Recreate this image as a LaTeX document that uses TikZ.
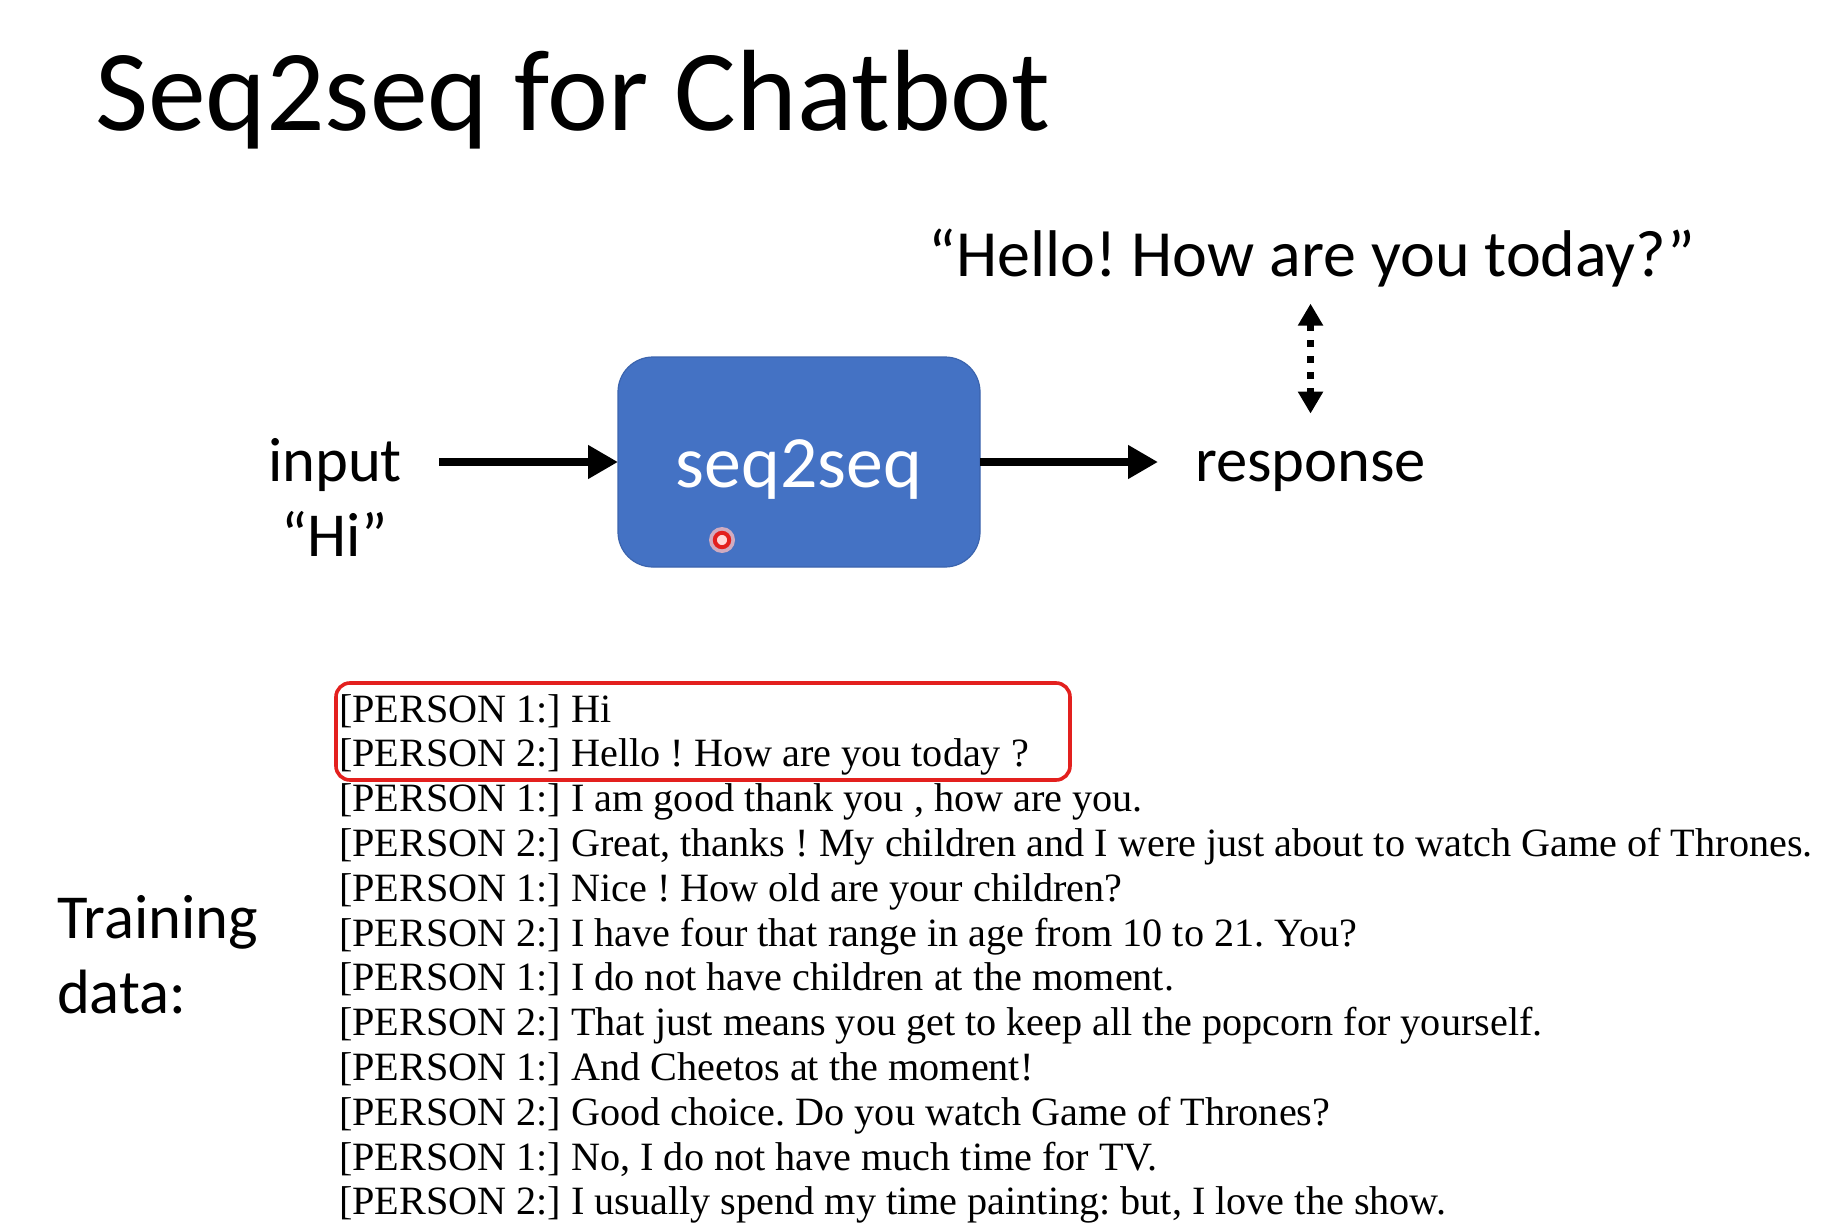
\documentclass[tikz,border=0pt]{standalone}
\usepackage{fontspec}
\setmainfont{Carlito}
\newfontfamily\paperfont{Liberation Serif}
\usetikzlibrary{arrows.meta}
\definecolor{boxblue}{HTML}{4472C4}
\definecolor{boxedge}{HTML}{3B64AE}
\definecolor{markred}{HTML}{E3201E}
\begin{document}
\frenchspacing
\begin{tikzpicture}[x=0.5pt,y=-0.5pt,
  every node/.style={inner sep=0pt,outer sep=0pt},
  label31/.style={font=\fontsize{31.3pt}{37pt}\selectfont},
  seqbox/.style={rounded corners=17.5pt,fill=boxblue,draw=boxedge,line width=0.6pt,
    minimum width=181pt,minimum height=105pt,text=white,
    font=\fontsize{36.9pt}{44pt}\selectfont,text height=25pt,text depth=0pt},
  bigarrow/.style={line width=4pt,-{Triangle[length=15pt,width=16pt]}},
  dotarrow/.style={line width=3.5pt,dash pattern=on 3.5pt off 4.5pt,
    {Triangle[length=11pt,width=12pt]}-{Triangle[length=11pt,width=12pt]}},
  dialog/.style={anchor=base west,font=\paperfont\fontsize{20.1pt}{24pt}\selectfont},
  hilite/.style={draw=markred,line width=1.8pt,rounded corners=7pt}]
\useasboundingbox[fill=white] (0,0) rectangle (1825,1225);

% title
\node[anchor=base west,font=\fontsize{57.8pt}{68pt}\selectfont] (title) at (95,131) {Seq2seq for Chatbot};

% model and its input / output
\node[seqbox] (box) at (799,462) {seq2seq};
\node[label31,anchor=base] (inp) at (335,481) {input};
\node[label31,anchor=base] (hi) at (335,556) {“Hi”};
\node[label31,anchor=base west] (resp) at (1195,481) {response};
\node[anchor=base,font=\fontsize{33pt}{40pt}\selectfont] (hello) at (1312,277) {“Hello! How are you today?”};

\draw[bigarrow] ([xshift=18.5pt]inp.east |- box.west) -- (box.west);
\draw[bigarrow] (box.east) -- ([xshift=-18.5pt]resp.west |- box.east);
\draw[dotarrow] ([yshift=-8pt]hello.south -| resp.north) -- ([yshift=18.5pt]resp.north);

% pointer dot
\fill[red!25!white,opacity=0.75] (722,540) circle (6.5pt);
\draw[markred,line width=2pt,fill=red!15!white] (722,540) circle (3.6pt);

% training data
\node[label31,anchor=base west] (tr1) at (57,938) {Training};
\node[label31,anchor=base west] (tr2) at (57,1013) {data:};

\foreach \i/\t in {
  1/{[PERSON 1:] Hi},
  2/{[PERSON 2:] Hello ! How are you today ?},
  3/{[PERSON 1:] I am good thank you , how are you.},
  4/{[PERSON 2:] Great, thanks ! My children and I were just about to watch Game of Thrones.},
  5/{[PERSON 1:] Nice ! How old are your children?},
  6/{[PERSON 2:] I have four that range in age from 10 to 21. You?},
  7/{[PERSON 1:] I do not have children at the moment.},
  8/{[PERSON 2:] That just means you get to keep all the popcorn for yourself.},
  9/{[PERSON 1:] And Cheetos at the moment!},
  10/{[PERSON 2:] Good choice. Do you watch Game of Thrones?},
  11/{[PERSON 1:] No, I do not have much time for TV.},
  12/{[PERSON 2:] I usually spend my time painting: but, I love the show.}}
  \node[dialog] (d\i) at (339,{722+44.8*(\i-1)}) {\t};

\draw[hilite] (336,683) rectangle (1070,780);
\end{tikzpicture}
\end{document}
